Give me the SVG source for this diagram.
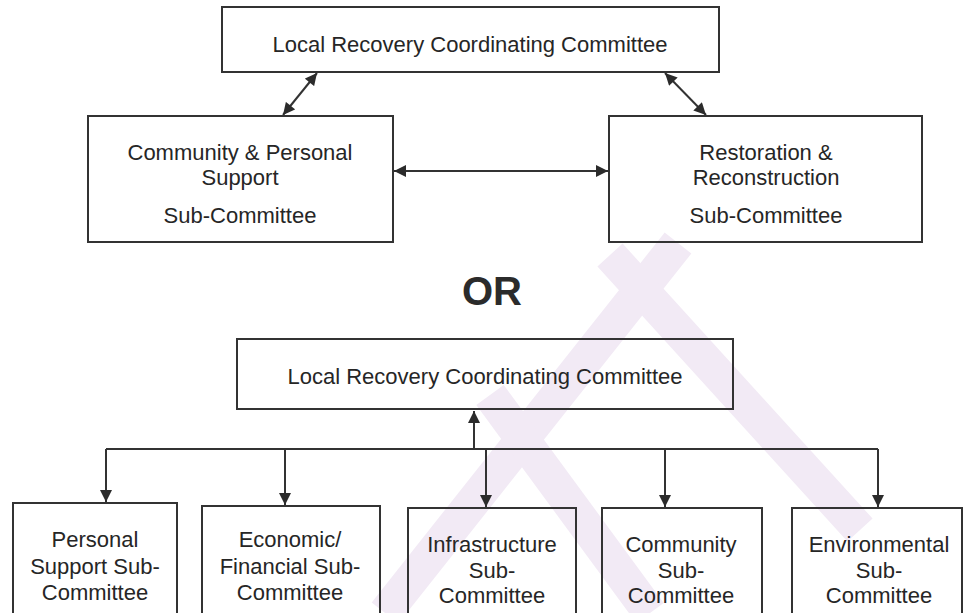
<svg xmlns="http://www.w3.org/2000/svg" width="966" height="613" viewBox="0 0 966 613">
<defs>
<style>
.box{fill:none;stroke:#333;stroke-width:2}
.t{font-family:"Liberation Sans",Arial,sans-serif;font-size:22px;fill:#262626;text-anchor:middle}
.or{font-family:"Liberation Sans",Arial,sans-serif;font-size:40px;font-weight:bold;fill:#2b2b2b;text-anchor:middle}
.c{fill:none;stroke:#333;stroke-width:2}
.wm{stroke:#f2eaf5;stroke-width:34;fill:none;stroke-linecap:butt}
</style>
<marker id="ah" viewBox="0 0 10 10" refX="10" refY="5" markerWidth="6.5" markerHeight="6" orient="auto-start-reverse" markerUnits="strokeWidth">
<path d="M0,0 L10,5 L0,10 z" fill="#2b2b2b"/>
</marker>
</defs>
<rect width="966" height="613" fill="#fff"/>
<g id="watermark">
<line class="wm" x1="678" y1="243" x2="385" y2="613"/>
<line class="wm" x1="610" y1="255" x2="860" y2="530"/>
<line class="wm" x1="490" y1="395" x2="650" y2="613"/>
</g>
<g id="connectors">
<line class="c" x1="317" y1="73" x2="283" y2="115" marker-start="url(#ah)" marker-end="url(#ah)"/>
<line class="c" x1="665" y1="73" x2="706" y2="115" marker-start="url(#ah)" marker-end="url(#ah)"/>
<line class="c" x1="394" y1="171" x2="608" y2="171" marker-start="url(#ah)" marker-end="url(#ah)"/>
<line class="c" x1="474" y1="449" x2="474" y2="411" marker-end="url(#ah)"/>
<line class="c" x1="106" y1="449" x2="878" y2="449"/>
<line class="c" x1="106" y1="449" x2="106" y2="502" marker-end="url(#ah)"/>
<line class="c" x1="285" y1="449" x2="285" y2="505" marker-end="url(#ah)"/>
<line class="c" x1="486" y1="449" x2="486" y2="507" marker-end="url(#ah)"/>
<line class="c" x1="665" y1="449" x2="665" y2="507" marker-end="url(#ah)"/>
<line class="c" x1="878" y1="449" x2="878" y2="507" marker-end="url(#ah)"/>
</g>
<g id="lrcc1">
<rect class="box" x="222" y="7" width="497" height="65"/>
<text class="t" x="470" y="52">Local Recovery Coordinating Committee</text>
</g>
<g id="community-personal">
<rect class="box" x="88" y="116" width="305" height="126"/>
<text class="t" x="240" y="160">Community &amp; Personal</text>
<text class="t" x="240" y="185">Support</text>
<text class="t" x="240" y="223">Sub-Committee</text>
</g>
<g id="restoration">
<rect class="box" x="609" y="116" width="313" height="126"/>
<text class="t" x="766" y="160">Restoration &amp;</text>
<text class="t" x="766" y="185">Reconstruction</text>
<text class="t" x="766" y="223">Sub-Committee</text>
</g>
<g id="or">
<text class="or" x="492" y="305">OR</text>
</g>
<g id="lrcc2">
<rect class="box" x="237" y="339" width="496" height="70"/>
<text class="t" x="485" y="384">Local Recovery Coordinating Committee</text>
</g>
<g id="personal-support">
<rect class="box" x="13" y="503" width="164" height="120"/>
<text class="t" x="95" y="547">Personal</text>
<text class="t" x="95" y="574">Support Sub-</text>
<text class="t" x="95" y="600">Committee</text>
</g>
<g id="economic">
<rect class="box" x="202" y="506" width="178" height="120"/>
<text class="t" x="290" y="547">Economic/</text>
<text class="t" x="290" y="574">Financial Sub-</text>
<text class="t" x="290" y="600">Committee</text>
</g>
<g id="infrastructure">
<rect class="box" x="408" y="508" width="168" height="120"/>
<text class="t" x="492" y="552">Infrastructure</text>
<text class="t" x="492" y="578">Sub-</text>
<text class="t" x="492" y="603">Committee</text>
</g>
<g id="community">
<rect class="box" x="602" y="508" width="160" height="120"/>
<text class="t" x="681" y="552">Community</text>
<text class="t" x="681" y="578">Sub-</text>
<text class="t" x="681" y="603">Committee</text>
</g>
<g id="environmental">
<rect class="box" x="792" y="508" width="170" height="120"/>
<text class="t" x="879" y="552">Environmental</text>
<text class="t" x="879" y="578">Sub-</text>
<text class="t" x="879" y="603">Committee</text>
</g>
</svg>
